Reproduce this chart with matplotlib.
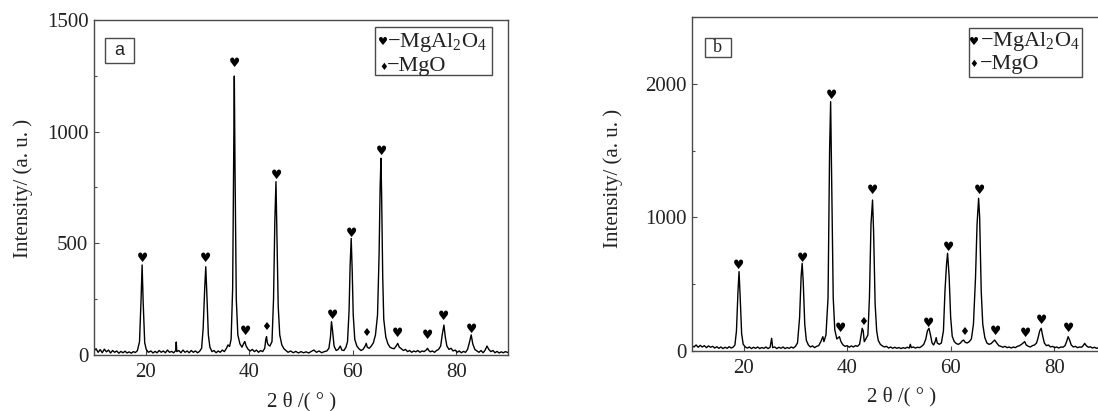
import matplotlib
matplotlib.use('Agg')
import matplotlib.pyplot as plt
import numpy as np
from matplotlib.patches import Rectangle
from matplotlib.ticker import MultipleLocator

plt.rcParams['font.family'] = ['Liberation Serif', 'DejaVu Sans']
plt.rcParams['mathtext.fontset'] = 'custom'
plt.rcParams['mathtext.rm'] = 'Liberation Serif'

# XRD trace (2theta, counts)
trace_a = [
    (10.0, 18), (10.4, 28), (10.8, 12), (11.2, 24), (11.6, 10), (12.0, 26), (12.4, 14), (12.8, 22),
    (13.2, 9), (13.6, 20), (14.0, 12), (14.4, 18), (14.8, 8), (15.2, 16), (15.6, 10), (16.0, 17),
    (16.4, 9), (16.8, 14), (17.2, 8), (17.6, 15), (18.0, 11), (18.4, 20), (18.8, 60), (19.1, 250),
    (19.3, 403), (19.5, 240), (19.8, 55), (20.1, 25), (20.5, 12), (21.0, 18), (21.4, 9), (21.8, 16),
    (22.2, 10), (22.6, 20), (23.0, 12), (23.4, 18), (23.8, 10), (24.2, 22), (24.6, 12), (25.0, 16),
    (25.4, 10), (25.8, 20), (25.9, 58), (26.0, 15), (26.4, 20), (26.8, 10), (27.2, 22), (27.6, 12),
    (28.0, 18), (28.4, 10), (28.8, 20), (29.2, 12), (29.6, 18), (30.0, 10), (30.4, 16), (30.8, 30),
    (31.1, 120), (31.4, 300), (31.6, 395), (31.8, 280), (32.1, 90), (32.4, 35), (32.8, 15), (33.2, 20),
    (33.6, 10), (34.0, 18), (34.4, 12), (34.8, 22), (35.2, 15), (35.6, 30), (35.9, 45), (36.2, 38),
    (36.5, 70), (36.8, 300), (37.0, 900), (37.12, 1249), (37.25, 850), (37.5, 250), (37.8, 90),
    (38.2, 50), (38.6, 35), (39.0, 55), (39.15, 60), (39.4, 40), (39.8, 25), (40.2, 18), (40.6, 25),
    (41.0, 15), (41.4, 22), (41.8, 12), (42.2, 20), (42.6, 15), (43.0, 30), (43.2, 70), (43.35, 82),
    (43.5, 55), (43.7, 45), (44.0, 40), (44.4, 60), (44.7, 250), (44.95, 600), (45.17, 776),
    (45.35, 550), (45.6, 220), (45.9, 90), (46.3, 45), (46.7, 28), (47.1, 20), (47.5, 12), (48.0, 18),
    (48.5, 10), (49.0, 16), (49.5, 9), (50.0, 15), (50.5, 10), (51.0, 14), (51.5, 9), (52.0, 16),
    (52.5, 22), (53.0, 12), (53.5, 18), (54.0, 10), (54.5, 15), (55.0, 18), (55.4, 30), (55.7, 80),
    (55.9, 149), (56.1, 110), (56.4, 40), (56.8, 20), (57.2, 25), (57.6, 40), (57.9, 22), (58.3, 20),
    (58.7, 35), (59.0, 60), (59.3, 200), (59.5, 400), (59.71, 522), (59.9, 380), (60.1, 180),
    (60.4, 70), (60.8, 40), (61.2, 28), (61.6, 20), (62.0, 25), (62.4, 40), (62.62, 52), (62.8, 35),
    (63.2, 30), (63.6, 40), (64.0, 55), (64.4, 90), (64.8, 180), (65.1, 450), (65.3, 750),
    (65.46, 881), (65.6, 700), (65.8, 350), (66.0, 160), (66.4, 80), (66.8, 50), (67.2, 35),
    (67.6, 30), (68.0, 28), (68.4, 40), (68.7, 52), (69.0, 35), (69.4, 28), (69.8, 20), (70.2, 25),
    (70.6, 15), (71.0, 20), (71.4, 12), (71.8, 18), (72.2, 14), (72.6, 20), (73.0, 12), (73.4, 18),
    (73.8, 15), (74.2, 22), (74.45, 30), (74.7, 20), (75.0, 14), (75.4, 18), (75.8, 12), (76.2, 20),
    (76.6, 25), (77.0, 40), (77.3, 90), (77.63, 134), (77.9, 80), (78.2, 40), (78.6, 25), (79.0, 30),
    (79.4, 18), (79.8, 22), (80.2, 12), (80.6, 18), (81.0, 10), (81.4, 16), (81.8, 12), (82.2, 25),
    (82.6, 60), (82.9, 90), (83.2, 50), (83.6, 25), (84.0, 18), (84.4, 12), (84.8, 20), (85.2, 10),
    (85.6, 22), (85.95, 40), (86.3, 25), (86.7, 15), (87.1, 20), (87.5, 10), (87.9, 16), (88.3, 9),
    (88.7, 14), (89.1, 10), (89.5, 15), (90.0, 11),
]

# XRD trace (2theta, counts)
trace_b = [
    (10.0, 40), (10.4, 30), (10.8, 45), (11.2, 28), (11.6, 42), (12.0, 30), (12.4, 40), (12.8, 25),
    (13.2, 38), (13.6, 28), (14.0, 35), (14.4, 22), (14.8, 32), (15.2, 20), (15.6, 30), (16.0, 18),
    (16.4, 28), (16.8, 20), (17.2, 32), (17.6, 22), (18.0, 30), (18.3, 45), (18.6, 150), (18.9, 450),
    (19.1, 594), (19.3, 420), (19.6, 130), (19.9, 50), (20.3, 30), (20.7, 22), (21.1, 30), (21.5, 18),
    (21.9, 28), (22.3, 20), (22.7, 30), (23.1, 18), (23.5, 26), (23.9, 20), (24.3, 30), (24.7, 18),
    (25.1, 28), (25.4, 95), (25.6, 25), (26.0, 30), (26.4, 18), (26.8, 28), (27.2, 20), (27.6, 30),
    (28.0, 18), (28.4, 26), (28.8, 20), (29.2, 30), (29.6, 22), (30.0, 35), (30.4, 60), (30.8, 250),
    (31.1, 560), (31.3, 656), (31.5, 520), (31.8, 200), (32.1, 80), (32.5, 45), (32.9, 30), (33.3, 38),
    (33.7, 25), (34.1, 35), (34.5, 40), (34.9, 70), (35.3, 107), (35.5, 70), (35.9, 120), (36.3, 400),
    (36.6, 1500), (36.8, 1866), (37.0, 1300), (37.3, 400), (37.6, 160), (38.0, 90), (38.3, 100),
    (38.5, 107), (38.8, 70), (39.2, 45), (39.6, 35), (40.0, 40), (40.4, 28), (40.8, 38), (41.2, 30),
    (41.6, 40), (42.0, 35), (42.4, 50), (42.7, 120), (42.9, 170), (43.1, 150), (43.3, 70), (43.6, 90),
    (44.0, 120), (44.3, 400), (44.6, 950), (44.9, 1130), (45.1, 900), (45.4, 350), (45.7, 150),
    (46.0, 80), (46.4, 50), (46.8, 38), (47.2, 30), (47.6, 35), (48.0, 22), (48.4, 30), (48.8, 20),
    (49.2, 28), (49.6, 20), (50.0, 26), (50.4, 18), (50.8, 25), (51.2, 20), (51.6, 28), (52.0, 22),
    (52.2, 50), (52.4, 25), (52.8, 30), (53.2, 22), (53.6, 28), (54.0, 25), (54.4, 35), (54.8, 50),
    (55.2, 90), (55.5, 150), (55.8, 170), (56.1, 120), (56.4, 60), (56.7, 45), (57.0, 70),
    (57.2, 100), (57.4, 60), (57.8, 50), (58.2, 60), (58.6, 150), (58.9, 450), (59.2, 650),
    (59.4, 731), (59.7, 560), (60.0, 250), (60.3, 110), (60.7, 70), (61.1, 55), (61.5, 50),
    (61.9, 60), (62.2, 75), (62.5, 82), (62.8, 65), (63.2, 60), (63.6, 70), (64.0, 90), (64.4, 200),
    (64.8, 550), (65.1, 950), (65.4, 1143), (65.6, 1000), (65.9, 450), (66.2, 200), (66.6, 100),
    (67.0, 60), (67.4, 50), (67.8, 55), (68.2, 70), (68.5, 82), (68.9, 60), (69.3, 40), (69.7, 35),
    (70.1, 28), (70.5, 35), (70.9, 25), (71.3, 30), (71.7, 22), (72.1, 30), (72.5, 25), (72.9, 35),
    (73.3, 40), (73.7, 50), (74.0, 60), (74.3, 70), (74.6, 45), (75.0, 35), (75.4, 30), (75.8, 40),
    (76.2, 45), (76.6, 60), (76.9, 100), (77.2, 150), (77.5, 170), (77.8, 110), (78.1, 60),
    (78.5, 40), (78.9, 45), (79.3, 30), (79.7, 35), (80.1, 25), (80.5, 30), (80.9, 22), (81.3, 30),
    (81.7, 28), (82.1, 40), (82.4, 70), (82.7, 107), (83.0, 80), (83.3, 45), (83.7, 30), (84.1, 35),
    (84.5, 25), (84.9, 30), (85.3, 28), (85.6, 40), (85.9, 57), (86.2, 40), (86.6, 28), (87.0, 32),
    (87.4, 22), (87.8, 28), (88.2, 20), (88.6, 26), (89.0, 18), (89.5, 24), (90.0, 20),
]

# phase markers (2theta, y position of symbol)
spinel_a = [(19.3, 430), (31.6, 433), (37.1, 1303), (39.2, 107), (45.2, 803), (56.0, 179),
            (59.7, 545), (65.5, 910), (68.7, 97), (74.5, 85), (77.6, 171), (82.9, 112)]
mgo_a = [(43.3, 127), (62.6, 97)]
spinel_b = [(19.0, 639), (31.3, 694), (36.9, 1911), (38.7, 170), (44.8, 1200), (55.7, 207),
            (59.6, 776), (65.5, 1200), (68.6, 144), (74.4, 132), (77.5, 227), (82.8, 170)]
mgo_b = [(43.0, 219), (62.6, 144)]

panels = [
    dict(trace=trace_a, spinel=spinel_a, mgo=mgo_a, ylim=(0, 1500), major=500, minor=250,
         rect=[0.0856, 0.1363, 0.3770, 0.8151], tag='a', tag_font='Liberation Sans',
         tag_box=(0.027, 0.871, 0.070, 0.076), leg_box=(0.680, 0.837, 0.282, 0.142),
         leg_x=(0.699, 0.708), leg_y=(0.934, 0.861), ylab=(-0.171, 0.496), xlab=(0.502, -0.14)),
    dict(trace=trace_b, spinel=spinel_b, mgo=mgo_b, ylim=(0, 2500), major=1000, minor=500,
         rect=[0.6302, 0.146, 0.3770, 0.8127], tag='b', tag_font='Liberation Serif',
         tag_box=(0.031, 0.880, 0.063, 0.057), leg_box=(0.669, 0.820, 0.273, 0.147),
         leg_x=(0.681, 0.696), leg_y=(0.926, 0.859), ylab=(-0.191, 0.518), xlab=(0.506, -0.138)),
]

spine_color = '#4a4a4a'
text_color = '#222222'
fs = 15

fig = plt.figure(figsize=(10.98, 4.11), dpi=100)

for p in panels:
    ax = fig.add_axes(p['rect'])
    x, y = np.array(p['trace']).T
    ax.plot(x, y, color='black', lw=1.0)

    for sx, sy in p['spinel']:
        ax.text(sx, sy, '\u2665', family='DejaVu Sans', fontsize=9, ha='center', va='center')
    for mx, my in p['mgo']:
        ax.text(mx, my, '\u2666', family='DejaVu Sans', fontsize=8, ha='center', va='center')

    ax.set_xlim(10, 90)
    ax.set_ylim(*p['ylim'])
    ax.xaxis.set_major_locator(MultipleLocator(20))
    ax.yaxis.set_major_locator(MultipleLocator(p['major']))
    ax.yaxis.set_minor_locator(MultipleLocator(p['minor']))
    ax.tick_params(which='both', direction='in', color=spine_color, width=0.8,
                   labelsize=fs, labelcolor=text_color)
    ax.tick_params(which='major', length=3.5)
    ax.tick_params(which='minor', length=2.5)
    ax.tick_params(axis='x', pad=6)
    ax.tick_params(axis='y', pad=4)
    for s in ax.spines.values():
        s.set_color(spine_color)
        s.set_linewidth(1.0)

    ax.set_ylabel('Intensity/ (a. u. )', fontsize=fs, color=text_color)
    ax.yaxis.set_label_coords(*p['ylab'])
    ax.yaxis.label.set_va('center')
    ax.set_xlabel('2 \u03b8 /( \u00b0 )', fontsize=fs, color=text_color)
    ax.xaxis.set_label_coords(*p['xlab'])
    ax.xaxis.label.set_va('center')

    # panel tag box
    bx, by, bw, bh = p['tag_box']
    ax.add_patch(Rectangle((bx, by), bw, bh, transform=ax.transAxes, fill=False,
                           ec=spine_color, lw=1.0))
    ax.text(bx + bw / 2, by + bh / 2, p['tag'], transform=ax.transAxes, ha='center',
            va='center', fontsize=13, family=p['tag_font'], color=text_color)

    # legend box
    lx, ly, lw_, lh = p['leg_box']
    ax.add_patch(Rectangle((lx, ly), lw_, lh, transform=ax.transAxes, fill=False,
                           ec=spine_color, lw=1.0))
    mk_x, txt_x = p['leg_x']
    ax.text(mk_x, p['leg_y'][0], '\u2665', transform=ax.transAxes, family='DejaVu Sans',
            fontsize=8, ha='center', va='center')
    ax.text(mk_x, p['leg_y'][1], '\u2666', transform=ax.transAxes, family='DejaVu Sans',
            fontsize=7, ha='center', va='center')
    ax.text(txt_x, p['leg_y'][0], '\u2212MgAl$_\\mathregular{2}$O$_\\mathregular{4}$',
            transform=ax.transAxes, fontsize=16, ha='left', va='center', color=text_color)
    ax.text(txt_x, p['leg_y'][1], '\u2212MgO', transform=ax.transAxes, fontsize=16,
            ha='left', va='center', color=text_color)

plt.savefig('out.png', dpi=100)
